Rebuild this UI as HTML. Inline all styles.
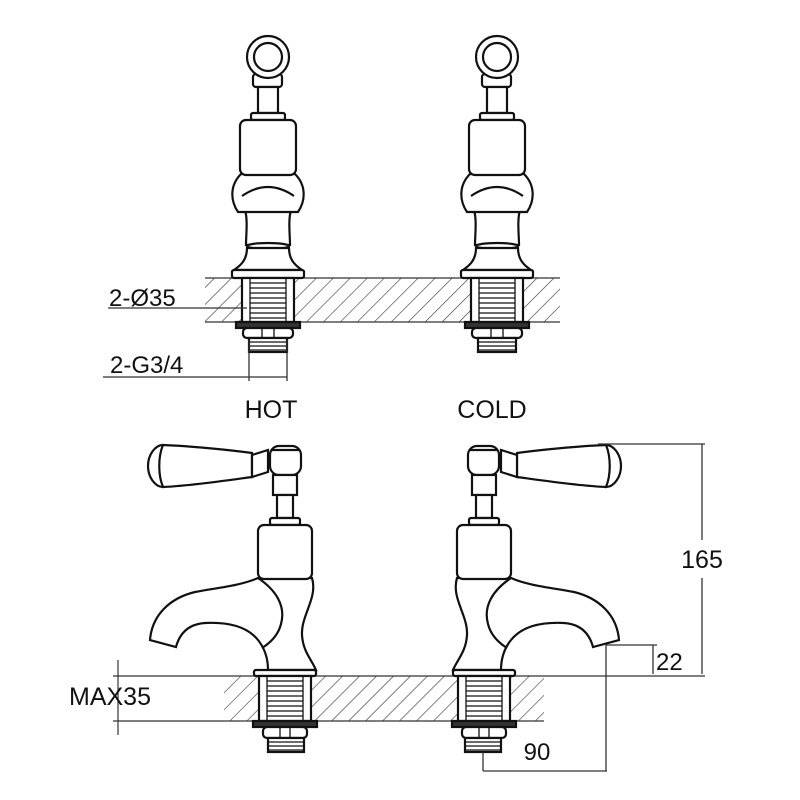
<!DOCTYPE html>
<html><head><meta charset="utf-8"><style>
html,body{margin:0;padding:0;background:#fff;}
svg{display:block;}
text{font-family:"Liberation Sans",sans-serif;fill:#111;}
</style></head><body>
<svg width="800" height="800" viewBox="0 0 800 800" xmlns="http://www.w3.org/2000/svg">
<defs>
<pattern id="h" patternUnits="userSpaceOnUse" width="12" height="12" patternTransform="rotate(45)">
<line x1="0" y1="0" x2="0" y2="12" stroke="#333" stroke-width="1.2"/>
</pattern>
<g id="topTap" fill="#fff" stroke="#111" stroke-width="2.2">
<rect x="-15" y="74" width="29" height="13" rx="3"/>
<circle cx="0" cy="57" r="21"/>
<circle cx="0" cy="57" r="14"/>
<rect x="-10" y="87" width="20" height="26"/>
<rect x="-17" y="113" width="34" height="7" rx="2"/>
<path d="M-23,210 C-20,220 -22,235 -22,245 L22,245 C22,235 20,220 23,210 Z"/>
<path d="M-27,174 C-38,185 -38,200 -30,212 L30,212 C38,200 38,185 27,174 Z"/>
<path d="M-26,196 Q0,178 26,196" fill="none"/>
<rect x="-28" y="120" width="56" height="55" rx="6"/>
<ellipse cx="0" cy="246" rx="21" ry="3"/>
<path d="M-21,248 C-21,262 -30,267 -34,270 L34,270 C30,267 21,262 21,248 Z"/>
<rect x="-36" y="270" width="72" height="8" rx="2"/>
<rect x="-26" y="278" width="52" height="44"/>
<path d="M-18,278 V322 M18,278 V322 M-18,283H18 M-18,288H18 M-18,293H18 M-18,298H18 M-18,303H18 M-18,308H18 M-18,313H18 M-18,318H18" stroke-width="1.3"/>
<rect x="-32" y="322" width="64" height="6" fill="#333"/>
<rect x="-25" y="328" width="50" height="10" rx="4"/>
<path d="M-6,328V338 M6,328V338" stroke-width="1.3"/>
<rect x="-19" y="338" width="38" height="14"/>
<path d="M-19,342H19 M-19,346H19 M-19,350H19" stroke-width="1.2"/>
</g>
<g id="botTap" fill="#fff" stroke="#111" stroke-width="2.2">
<path d="M163,445 C155,445 148,455 148,466 C148,477 155,487 163,487 Z"/>
<path d="M163,445 C190,446 230,450 252,453 L252,477 C230,480 190,486 163,487 C158,475 158,457 163,445 Z"/>
<path d="M252,455 L268,450 L268,472 L252,477 Z"/>
<rect x="270" y="446" width="31" height="29" rx="9"/>
<path d="M272,450 H299" fill="none"/>
<rect x="273" y="475" width="24" height="20"/>
<rect x="277" y="495" width="16" height="23"/>
<rect x="270" y="518" width="30" height="7" rx="2"/>
<path d="M258,578 C240,586 215,588 195,592 C170,598 152,615 150,640 L176,647 C180,632 190,624 205,623 C225,622 246,625 258,640 C266,650 268,660 268,670 L316,670 C312,660 303,652 302,635 C301,615 318,598 312,578 Z"/>
<path d="M258,578 C276,590 286,606 281,624 C278,636 270,643 262,648" fill="none"/>
<rect x="258" y="525" width="54" height="54" rx="6"/>
<rect x="254" y="670" width="62" height="6" rx="2"/>
<rect x="259" y="676" width="52" height="45"/>
<path d="M267,676 V721 M303,676 V721 M267,681H303 M267,686H303 M267,691H303 M267,696H303 M267,701H303 M267,706H303 M267,711H303 M267,716H303" stroke-width="1.3"/>
<rect x="253" y="721" width="64" height="6" fill="#333"/>
<rect x="263" y="727" width="44" height="11" rx="4"/>
<path d="M280,727V738 M290,727V738" stroke-width="1.3"/>
<rect x="268" y="738" width="36" height="14"/>
<path d="M268,742H304 M268,746H304 M268,750H304" stroke-width="1.2"/>
</g>
</defs>

<rect x="205" y="278" width="355" height="44" fill="url(#h)"/>
<path d="M205,278H560 M205,322H560" stroke="#333" stroke-width="1.3"/>
<use href="#topTap" transform="translate(268,0)"/>
<use href="#topTap" transform="translate(497,0)"/>

<path d="M108,308H247" stroke="#333" stroke-width="1.3"/>
<path d="M103,377H287 M249,340V381 M287,340V381" stroke="#333" stroke-width="1.3"/>
<text x="109" y="306" font-size="24">2-Ø35</text>
<text x="110" y="373" font-size="24">2-G3/4</text>

<text x="271" y="418" font-size="25" text-anchor="middle">HOT</text>
<text x="492" y="418" font-size="25" text-anchor="middle">COLD</text>

<rect x="224" y="676" width="320" height="45" fill="url(#h)"/>
<path d="M113,676H705 M113,721H544" stroke="#333" stroke-width="1.3"/>
<path d="M118,660V735" stroke="#333" stroke-width="1.2"/>
<use href="#botTap"/>
<use href="#botTap" transform="translate(769,0) scale(-1,1)"/>

<path d="M598,444H705 M702,444V540 M702,578V674" stroke="#333" stroke-width="1.3"/>
<path d="M606,645H657 M653,645V674 M606,645V771 M483,752V771 M483,771H607" stroke="#333" stroke-width="1.3"/>
<text x="702" y="568" font-size="25" text-anchor="middle">165</text>
<text x="656" y="670" font-size="24">22</text>
<text x="537" y="760" font-size="24" text-anchor="middle">90</text>
<text x="69" y="705" font-size="25">MAX35</text>
</svg>
</body></html>
